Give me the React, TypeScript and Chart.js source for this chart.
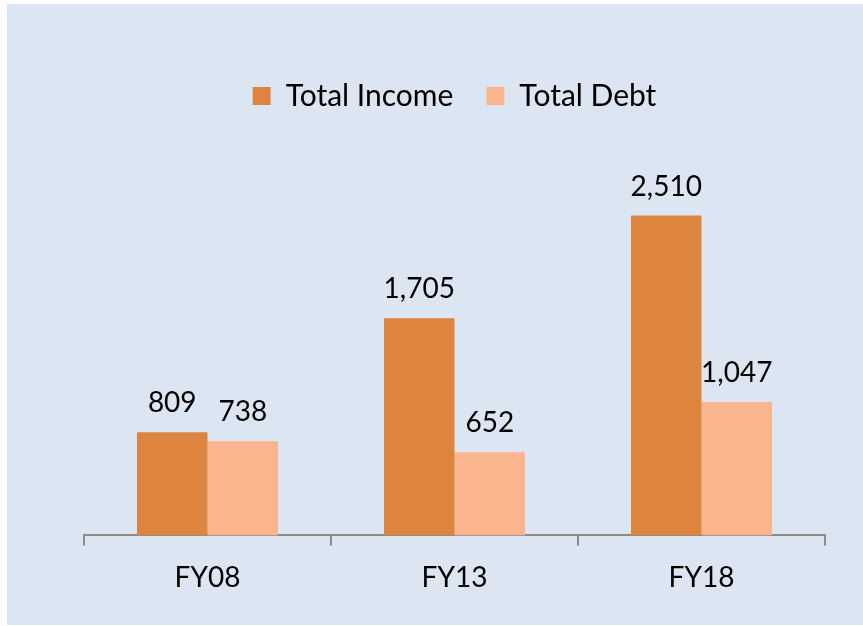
import React, { useEffect, useRef } from "react";
import { Chart, registerables } from "chart.js";

Chart.register(...registerables);

const categories = ["FY08", "FY13", "FY18"];
const totalIncome = [809, 1705, 2510];
const totalDebt = [738, 652, 1047];
const seriesNames = ["Total Income", "Total Debt"];

const FONT = "Lato, 'Noto Sans', sans-serif";

const valueLabels = {
  id: "valueLabels",
  afterDatasetsDraw(chart: any) {
    const ctx = chart.ctx;
    ctx.save();
    ctx.font = `28px ${FONT}`;
    ctx.fillStyle = "#000000";
    ctx.textAlign = "center";
    ctx.textBaseline = "alphabetic";
    chart.data.datasets.forEach((ds: any, i: number) => {
      const meta = chart.getDatasetMeta(i);
      meta.data.forEach((el: any, j: number) => {
        const v = ds.data[j] as number;
        ctx.fillText(v.toLocaleString("en-US"), el.x, el.y - 20);
      });
    });
    ctx.restore();
  },
};

export default function App() {
  const ref = useRef<HTMLCanvasElement | null>(null);
  useEffect(() => {
    if (!ref.current) return;
    const chart = new Chart(ref.current, {
      type: "bar",
      data: {
        labels: categories,
        datasets: [
          {
            label: seriesNames[0],
            data: totalIncome,
            backgroundColor: "#DD843E",
            categoryPercentage: 0.571,
            barPercentage: 1,
          },
          {
            label: seriesNames[1],
            data: totalDebt,
            backgroundColor: "#FAB58F",
            categoryPercentage: 0.571,
            barPercentage: 1,
          },
        ],
      },
      options: {
        responsive: false,
        animation: false,
        layout: { padding: { left: 77, right: 38, top: 44, bottom: 14 } },
        plugins: {
          legend: {
            position: "top",
            labels: {
              boxWidth: 18,
              boxHeight: 18,
              padding: 33,
              color: "#000000",
              font: { family: FONT, size: 30 },
            },
          },
          tooltip: { enabled: false },
        },
        scales: {
          x: {
            grid: {
              offset: true,
              drawOnChartArea: false,
              drawTicks: true,
              tickLength: 10,
              color: "#8C8C8C",
              lineWidth: 2,
            },
            border: { display: true, color: "#8C8C8C", width: 2 },
            ticks: {
              color: "#000000",
              padding: 16,
              font: { family: FONT, size: 28 },
            },
          },
          y: {
            display: false,
            min: 0,
            max: 3252,
          },
        },
      },
      plugins: [valueLabels],
    });
    return () => chart.destroy();
  }, []);
  return (
    <div
      style={{
        position: "absolute",
        left: 7,
        top: 4,
        width: 856,
        height: 621,
        background: "#DCE6F2",
      }}
    >
      <canvas ref={ref} width={856} height={621} style={{ display: "block" }} />
    </div>
  );
}
